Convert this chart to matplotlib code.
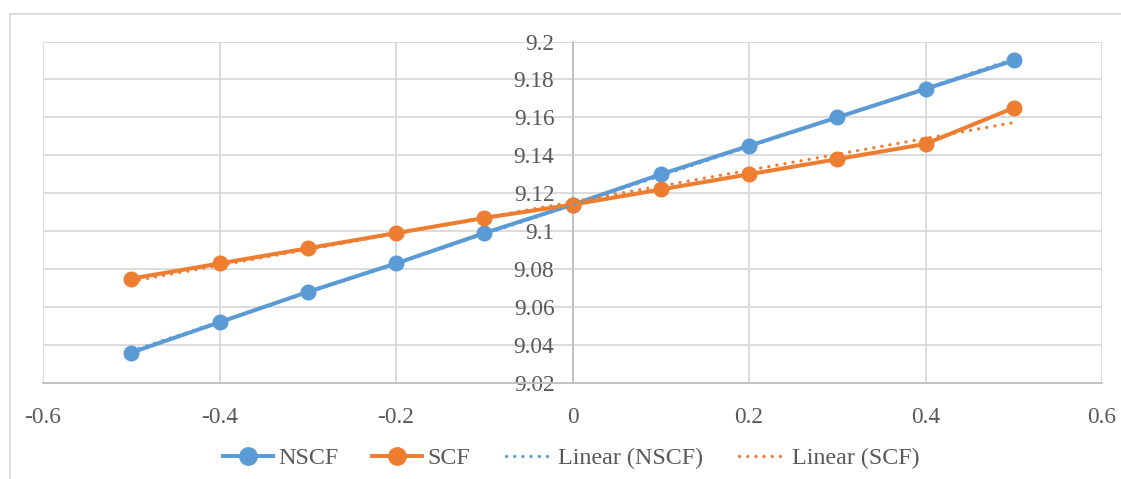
import matplotlib
matplotlib.use("Agg")
import matplotlib.pyplot as plt
import numpy as np
from matplotlib.lines import Line2D
from matplotlib.patches import Rectangle
from matplotlib.legend_handler import HandlerLine2D

x_vals = [-0.5, -0.4, -0.3, -0.2, -0.1, 0.0, 0.1, 0.2, 0.3, 0.4, 0.5]
nscf = [9.036, 9.052, 9.068, 9.083, 9.099, 9.114, 9.130, 9.145, 9.160, 9.175, 9.190]
scf = [9.075, 9.083, 9.091, 9.099, 9.107, 9.114, 9.122, 9.130, 9.138, 9.146, 9.165]
x_ticks = [-0.6, -0.4, -0.2, 0.0, 0.2, 0.4, 0.6]
x_tick_labels = ["-0.6", "-0.4", "-0.2", "0", "0.2", "0.4", "0.6"]
y_ticks = [9.02, 9.04, 9.06, 9.08, 9.10, 9.12, 9.14, 9.16, 9.18, 9.20]
y_tick_labels = ["9.02", "9.04", "9.06", "9.08", "9.1", "9.12", "9.14", "9.16", "9.18", "9.2"]
legend_labels = ["NSCF", "SCF", "Linear (NSCF)", "Linear (SCF)"]

BLUE = "#5B9BD5"
ORANGE = "#ED7D31"
TXT = "#595959"
GRID = "#D9D9D9"
AXC = "#BFBFBF"

plt.rcParams['font.family'] = ['Liberation Serif', 'DejaVu Serif']

W, H = 1121, 479
fig = plt.figure(figsize=(W / 100, H / 100), dpi=100)
L, R, T, B = 43, 1102, 41.5, 383
ax = fig.add_axes([L / W, 1 - B / H, (R - L) / W, (B - T) / H])

# outer chart border
fig.patches.append(Rectangle((10 / W, -0.2), 1.2, (H - 14) / H + 0.2,
                             transform=fig.transFigure, fill=False,
                             edgecolor=GRID, linewidth=1.3, clip_on=False))

xa = np.array(x_vals)
lw = 2.9
ms = 10.5
DOT = (0, (0.01, 2.45))
dlw = 2.4
ax.plot(x_vals, nscf, color=BLUE, lw=lw, marker='o', ms=ms, zorder=3,
        solid_capstyle='round', solid_joinstyle='round')
ax.plot(x_vals, scf, color=ORANGE, lw=lw, marker='o', ms=ms, zorder=3,
        solid_capstyle='round', solid_joinstyle='round')

# linear trendlines (least squares fit of the series)
for ys, c in ((nscf, BLUE), (scf, ORANGE)):
    k, b0 = np.polyfit(xa, np.array(ys), 1)
    ax.plot([x_vals[0], x_vals[-1]], [k * x_vals[0] + b0, k * x_vals[-1] + b0],
            color=c, lw=dlw, linestyle=DOT, dash_capstyle='round', zorder=4)

ax.set_xlim(-0.6, 0.6)
ax.set_ylim(9.02, 9.2)
ax.set_xticks(x_ticks)
ax.set_xticklabels(x_tick_labels)
ax.set_yticks(y_ticks)
ax.set_yticklabels(y_tick_labels)
ax.grid(True, color=GRID, lw=1.3, zorder=0)
ax.set_axisbelow(True)

for s in ('top', 'right'):
    ax.spines[s].set_visible(False)
ax.spines['left'].set_position(('data', 0))
for s in ('left', 'bottom'):
    ax.spines[s].set_color(AXC)
    ax.spines[s].set_linewidth(1.3)
    ax.spines[s].set_zorder(1)
ax.tick_params(axis='both', length=0, labelcolor=TXT, labelsize=16.8)
ax.tick_params(axis='x', pad=17)
ax.tick_params(axis='y', pad=13)


class ShortHandler(HandlerLine2D):
    def __init__(self, frac=0.88, **kw):
        super().__init__(**kw)
        self.frac = frac

    def create_artists(self, legend, orig_handle, xdescent, ydescent, width,
                       height, fontsize, trans):
        m = width * (1 - self.frac) / 2
        arts = super().create_artists(legend, orig_handle, xdescent - m, ydescent,
                                      width - 2 * m, height, fontsize, trans)
        return arts


handles = [
    Line2D([], [], color=BLUE, lw=lw, marker='o', ms=12.5),
    Line2D([], [], color=ORANGE, lw=lw, marker='o', ms=12.5),
    Line2D([], [], color=BLUE, lw=dlw, linestyle=DOT, dash_capstyle='round'),
    Line2D([], [], color=ORANGE, lw=dlw, linestyle=DOT, dash_capstyle='round'),
]
hmap = {handles[2]: ShortHandler(), handles[3]: ShortHandler()}
leg = fig.legend(handles, legend_labels, loc='center', bbox_to_anchor=(571 / W, 1 - 458 / H),
                 ncol=4, frameon=False, fontsize=17.3, handlelength=2.08,
                 handletextpad=0.22, columnspacing=1.38, borderaxespad=0,
                 handler_map=hmap)
for t in leg.get_texts():
    t.set_color(TXT)

fig.savefig("out.png", dpi=100)
